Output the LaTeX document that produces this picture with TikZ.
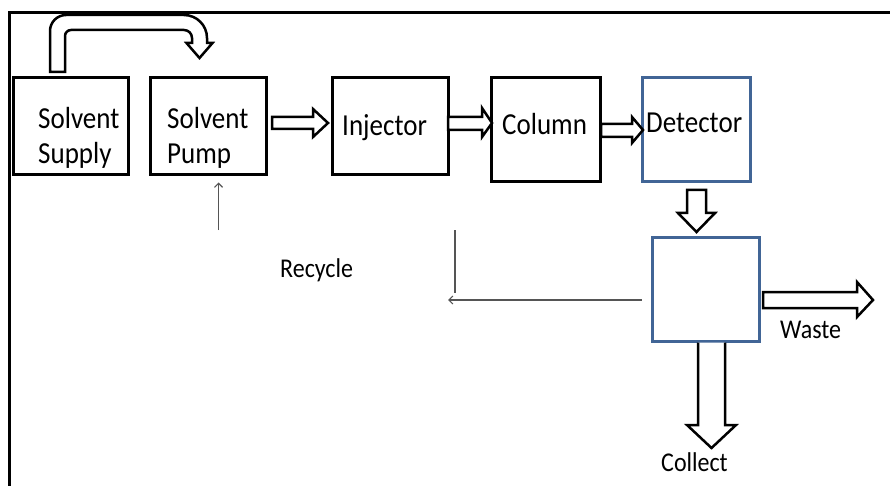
\documentclass[tikz,border=0pt]{standalone}
\usepackage{fontspec}
\setmainfont{Carlito}
\usetikzlibrary{arrows.meta,calc}
\definecolor{boxblue}{RGB}{65,101,150}
\definecolor{linegray}{RGB}{85,85,85}
% text set slightly taller than its natural shape
\newcommand{\tallt}[1]{\scalebox{1}[1.13]{#1}}
\begin{document}
\begin{tikzpicture}[x=1pt,y=-1pt,
  unitbox/.style={draw=black,line width=3pt,fill=white,inner sep=0pt,rectangle},
  bluebox/.style={draw=boxblue,line width=3pt,fill=white,inner sep=0pt,rectangle},
  boxtext/.style={inner sep=0pt,anchor=base west,font=\fontsize{27}{30}\selectfont},
  labeltext/.style={inner sep=0pt,anchor=base west,font=\fontsize{24}{28}\selectfont},
  blockarrow/.style={draw=black,line width=2.5pt,fill=white,line join=miter},
  recycle/.style={draw=linegray,line width=1.5pt,-{Straight Barb[length=4pt,width=8pt,line width=1.2pt]}}]
\useasboundingbox (0,0) rectangle (890,486);
\fill[white] (0,0) rectangle (890,486);

% frame (left and top edges)
\draw[line width=3pt] (9.5,486) -- (9.5,12.5) -- (890,12.5);

% process units
\node[unitbox,minimum width=115pt,minimum height=97pt] (supply) at (70.5,126.5) {};
\node[unitbox,minimum width=116pt,minimum height=97pt] (pump) at (208,126.5) {};
\node[unitbox,minimum width=116pt,minimum height=97pt] (injector) at (390,126.5) {};
\node[unitbox,minimum width=109pt,minimum height=104pt] (column) at (545.5,130) {};
\node[bluebox,minimum width=108pt,minimum height=104pt] (detector) at (696,130) {};
\node[bluebox,minimum width=107pt,minimum height=104pt] (splitter) at (705.5,289) {};

% unit labels
\node[boxtext] (t1a) at (38,129) {\tallt{Solvent}};
\node[boxtext] (t1b) at (38,164) {\tallt{Supply}};
\node[boxtext] (t2a) at (167,129) {\tallt{Solvent}};
\node[boxtext] (t2b) at (167,164) {\tallt{Pump}};
\node[boxtext] (t3) at (342,136) {\tallt{Injector}};
\node[boxtext] (t4) at (502,135) {\tallt{Column}};
\node[boxtext] (t5) at (646,133) {\tallt{Detector}};

% solvent transfer from supply to pump (bent block arrow)
\draw[blockarrow]
  (50,72) -- (50,31) arc[start angle=180,end angle=270,radius=16] -- (184,15)
  arc[start angle=270,end angle=360,radius=23] -- (207,43) -- (212.5,43) -- (199.5,58)
  -- (186.5,43) -- (192,43) -- (192,38) arc[start angle=0,end angle=-90,radius=8]
  -- (71,30) arc[start angle=270,end angle=180,radius=6] -- (65,72) -- cycle;

% flow arrows between units
\draw[blockarrow] (272,117) -- (313,117) -- (313,109) -- (328,123) -- (313,137) -- (313,129) -- (272,129) -- cycle;
\draw[blockarrow] (448,117) -- (482,117) -- (482,108) -- (492,123) -- (482,137) -- (482,130) -- (448,130) -- cycle;
\draw[blockarrow] (601,124) -- (632,124) -- (632,117) -- (643,130) -- (632,143) -- (632,137) -- (601,137) -- cycle;
\draw[blockarrow] (687,190) -- (706,190) -- (706,213) -- (715,213) -- (696.5,232) -- (678,213) -- (687,213) -- cycle;
\draw[blockarrow] (763,292) -- (857,292) -- (857,282) -- (873,300) -- (857,317) -- (857,308) -- (763,308) -- cycle;
\draw[blockarrow] (698,342.5) -- (698,425) -- (687,425) -- (711.5,448) -- (736,425) -- (725,425) -- (725,342.5);

% outlet labels
\node[labeltext] (waste) at (780,338) {\tallt{Waste}};
\node[labeltext] (collect) at (661,471) {\tallt{Collect}};

% recycle loop
\coordinate (rcA) at (218.5,230);
\coordinate (rcB) at (455,230);
\coordinate (rcC) at (455,293);
\coordinate (rcS) at ($(splitter.west)+(-9,11)$);
\coordinate (rcE) at (448,300);
\draw[recycle,shorten >=6pt] (rcA) -- (rcA |- pump.south);
\draw[draw=linegray,line width=1.5pt] (rcB) -- (rcC);
\draw[recycle] (rcS) -- (rcE);
\node[labeltext] (recy) at (280,277) {\tallt{Recycle}};
\end{tikzpicture}
\end{document}
